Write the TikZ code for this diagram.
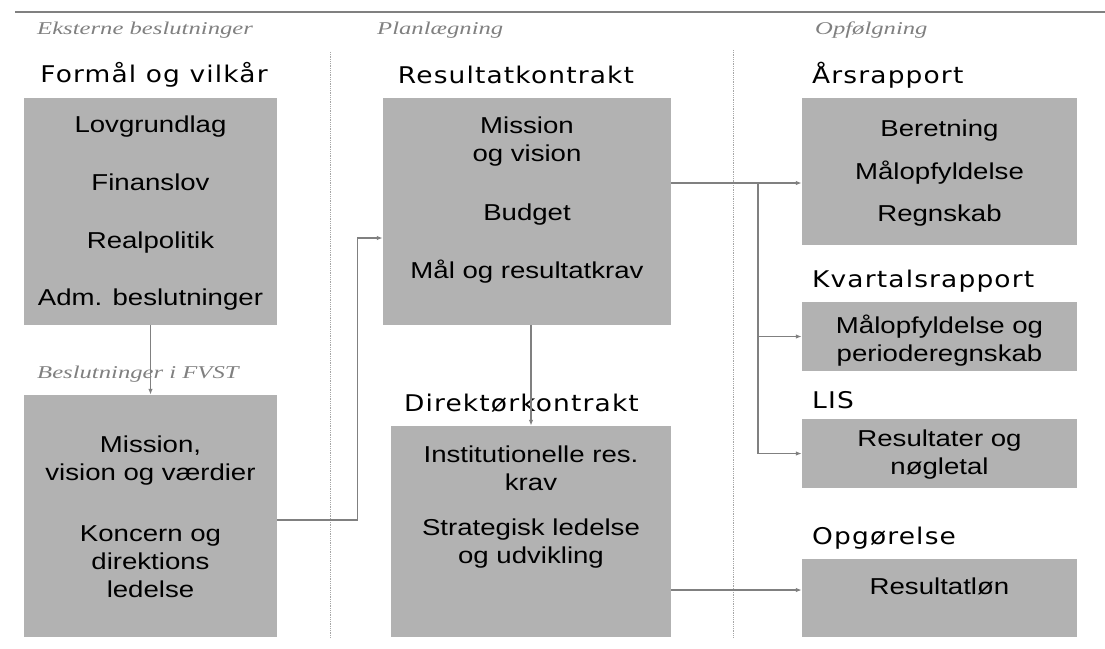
\documentclass[tikz,border=0pt]{standalone}
\usepackage{fontspec}
\setmainfont{Liberation Sans}
\newfontfamily\bodyfont[FakeStretch=1.2]{Liberation Sans}
\newfontfamily\headfont[FakeStretch=1.15,LetterSpace=5]{DejaVu Sans}
\newfontfamily\notefont[FakeStretch=1.37]{Liberation Serif}
\usetikzlibrary{arrows.meta, positioning, calc}
\definecolor{boxgray}{RGB}{178,178,178}
\definecolor{linegray}{RGB}{128,128,128}

\begin{document}
\begin{tikzpicture}[
  x=1pt, y=-1pt,
  box/.style={rectangle, fill=boxgray, inner sep=0pt},
  txt/.style={align=center, anchor=north, inner sep=0pt, font=\bodyfont\fontsize{23}{28}\selectfont},
  head/.style={anchor=base, inner sep=0pt, font=\headfont\fontsize{23}{27}\selectfont},
  note/.style={anchor=base west, inner sep=0pt, text=linegray, font=\notefont\itshape\fontsize{18}{21}\selectfont},
  arr/.style={draw=linegray, line width=1.2pt, -{Latex[length=6pt, width=4.5pt]}},
  sep/.style={draw=gray!70, densely dotted, line width=0.8pt}
]
  \useasboundingbox (0,0) rectangle (1105,648);

  % Rule and column separators
  \draw[linegray, line width=1.3pt] (15,12) -- (1105,12);
  \draw[sep] (330,52) -- (330,638);
  \draw[sep] (733,50) -- (733,638);

  % Column captions
  \node[note] (ext) at (37,34) {Eksterne beslutninger};
  \node[note] (plan) at (377,34) {Planlægning};
  \node[note] (opf) at (815,34) {Opfølgning};
  \node[note] (intern) at (37,378) {Beslutninger i FVST};

  % Boxes
  \node[box, minimum width=253pt, minimum height=227pt] (fv) at (150.5,211.5) {};
  \node[box, minimum width=253pt, minimum height=242pt] (bf) at (150.5,516) {};
  \node[box, minimum width=288pt, minimum height=227pt] (rk) at (527,211.5) {};
  \node[box, minimum width=280pt, minimum height=211pt] (dk) at (531,531.5) {};
  \node[box, minimum width=275pt, minimum height=147pt] (ar) at (939.5,171.5) {};
  \node[box, minimum width=275pt, minimum height=69pt] (kv) at (939.5,336.5) {};
  \node[box, minimum width=275pt, minimum height=69pt] (lis) at (939.5,453.5) {};
  \node[box, minimum width=275pt, minimum height=78pt] (og) at (939.5,598) {};

  % Headings
  \node[head] (fv-head) at (154,82) {Formål og vilkår};
  \node[head] (rk-head) at (516,83) {Resultatkontrakt};
  \node[head] (dk-head) at (521.5,411) {Direktørkontrakt};
  \node[head, anchor=base west] (ar-head) at (812,83) {Årsrapport};
  \node[head, anchor=base west] (kv-head) at (812,287) {Kvartalsrapport};
  \node[head, anchor=base west] (lis-head) at (812,408) {LIS};
  \node[head, anchor=base west] (og-head) at (812,544) {Opgørelse};

  % Box contents
  \node[txt] (fv-txt) at (150.5,116) {Lovgrundlag\\[29.7pt]Finanslov\\[29.7pt]Realpolitik\\[29.7pt]Adm. beslutninger};
  \node[txt] (bf-txt) at (150.5,436) {Mission,\\vision og værdier\\[33pt]Koncern og\\direktions\\ledelse};
  \node[txt] (rk-txt) at (527,117) {Mission\\og vision\\[31pt]Budget\\[30pt]Mål og resultatkrav};
  \node[txt] (dk-txt) at (531,446) {Institutionelle res.\\krav\\[17pt]Strategisk ledelse\\og udvikling};
  \node[txt] (ar-txt) at (939.5,120) {Beretning\\[14.5pt]Målopfyldelse\\[14.5pt]Regnskab};
  \node[txt] (kv-txt) at (939.5,315) {Målopfyldelse og\\perioderegnskab};
  \node[txt] (lis-txt) at (939.5,430) {Resultater og\\nøgletal};
  \node[txt] (og-txt) at (939.5,578) {Resultatløn};

  % Flows
  \coordinate (br) at (758,183);
  \draw[arr] (fv) -- (bf);
  \draw[arr] ([yshift=-4pt]bf.east) -- ++(80,0) |- ([yshift=-26.5pt]rk.west);
  \draw[arr] (rk.south -| dk.north) -- (dk.north);
  \draw[arr] ([yshift=28.5pt]rk.east) -- (br) -- (br -| ar.west);
  \draw[arr] (br) |- (kv.west);
  \draw[arr] (br) |- (lis.west);
  \draw[arr] ([yshift=-58.5pt]dk.east) -- ([yshift=-58.5pt]dk.east -| og.west);
\end{tikzpicture}
\end{document}
